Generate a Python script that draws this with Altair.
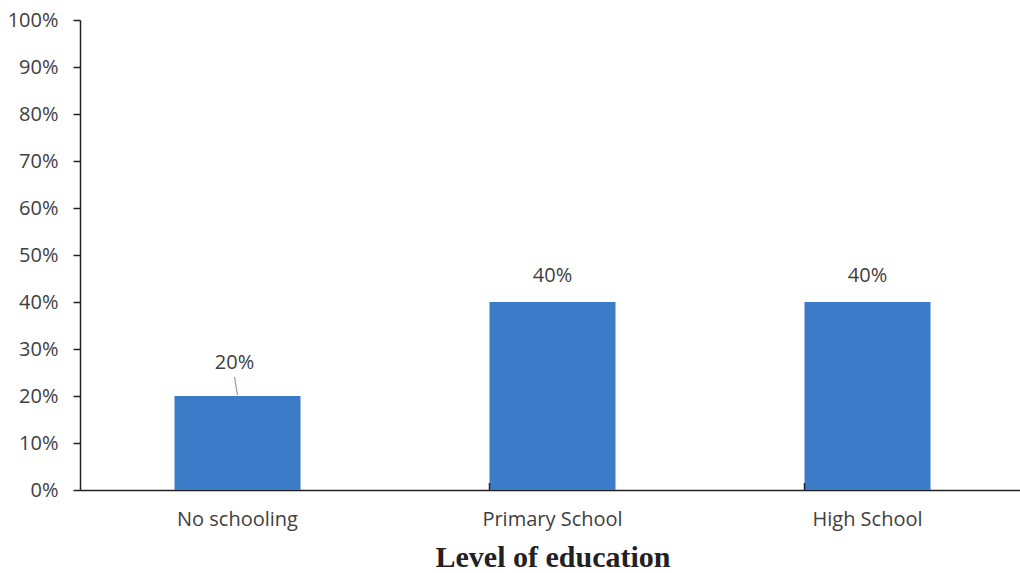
import altair as alt
import pandas as pd

# Share of respondents by highest level of education
levels = ["No schooling", "Primary School", "High School"]
shares = [0.20, 0.40, 0.40]

df = pd.DataFrame({"level": levels, "share": shares})

PLOT_W = 940
PLOT_H = 470
BAND_RANGE = 945  # the category axis runs slightly past the right edge
BAR_COLOR = "#3b7bc7"
TEXT_COLOR = "#404040"
AXIS_COLOR = "#222222"
FONT = "Open Sans"

x_scale = alt.Scale(domain=levels, range=[0, BAND_RANGE],
                    paddingInner=0.6, paddingOuter=0.3)
y_scale = alt.Scale(domain=[0, 1])

base = alt.Chart(df)

bars = base.mark_bar(color=BAR_COLOR).encode(
    x=alt.X(
        "level:N",
        scale=x_scale,
        sort=levels,
        axis=alt.Axis(
            title="Level of education",
            labelAngle=0,
            labelFont=FONT,
            labelFontSize=20,
            labelColor=TEXT_COLOR,
            labelPadding=19,
            ticks=False,
            domainColor=AXIS_COLOR,
            domainWidth=1.5,
            titleFont="Liberation Serif",
            titleFontWeight="bold",
            titleFontSize=30,
            titleColor=AXIS_COLOR,
            titlePadding=13,
        ),
    ),
    y=alt.Y(
        "share:Q",
        scale=y_scale,
        axis=alt.Axis(
            title=None,
            format=".0%",
            values=[i / 10 for i in range(11)],
            labelFont=FONT,
            labelFontSize=20,
            labelColor=TEXT_COLOR,
            labelPadding=15,
            tickSize=7,
            tickColor=AXIS_COLOR,
            tickWidth=1.5,
            domainColor=AXIS_COLOR,
            domainWidth=1.5,
            grid=False,
        ),
    ),
)

# Category boundary ticks pointing up from the baseline
bounds = base.transform_filter(
    alt.FieldOneOfPredicate(field="level", oneOf=levels[1:])
).mark_rule(color=AXIS_COLOR, strokeWidth=1.5).encode(
    x=alt.X("level:N", scale=x_scale, sort=levels, bandPosition=0),
    y=alt.value(PLOT_H),
    y2=alt.value(PLOT_H - 7),
)

x_enc = alt.X("level:N", scale=x_scale, sort=levels)
y_enc = alt.Y("share:Q", scale=y_scale)
txt = alt.Text("share:Q", format=".0%")

# Tall bars: label sits just above the bar
labels_tall = base.transform_filter(alt.datum.share >= 0.3).mark_text(
    baseline="bottom", dy=-16, font=FONT, fontSize=20, color=TEXT_COLOR
).encode(x=x_enc, y=y_enc, text=txt)

# Short bars: label lifted higher and tied back with a leader line
labels_short = base.transform_filter(alt.datum.share < 0.3).mark_text(
    baseline="bottom", dy=-23, dx=-3, font=FONT, fontSize=20, color=TEXT_COLOR
).encode(x=x_enc, y=y_enc, text=txt)

leader = base.transform_filter(alt.datum.share < 0.3).mark_rule(
    color="#9a9a9a", strokeWidth=1.2, yOffset=-1, y2Offset=-19, x2Offset=-3
).encode(x=x_enc, x2=alt.X2("level:N"), y=y_enc, y2=alt.Y2("share:Q"))

chart = (
    alt.layer(bars, bounds, leader, labels_tall, labels_short)
    .properties(
        width=PLOT_W,
        height=PLOT_H,
        background="white",
        autosize=alt.AutoSizeParams(type="none"),
        padding={"left": 80, "top": 20, "right": 0, "bottom": 83},
    )
    .configure_view(stroke=None)
)

chart.save("out.html", embed_options={"renderer": "svg", "actions": False})
